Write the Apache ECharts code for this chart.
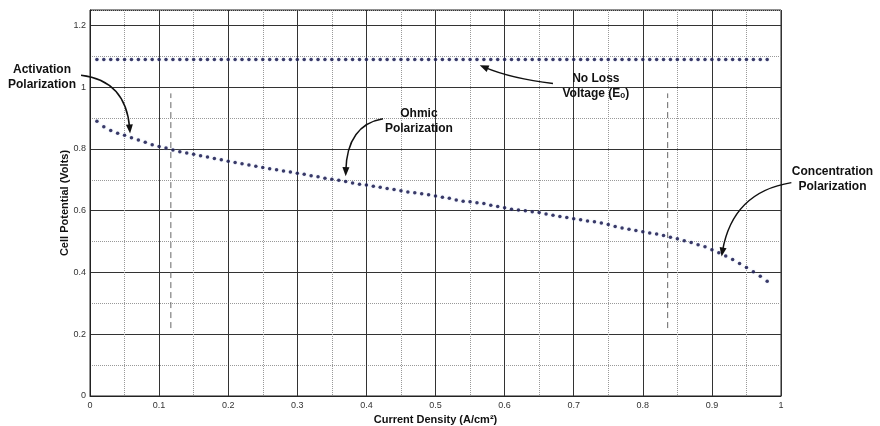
<!DOCTYPE html>
<html>
<head>
<meta charset="utf-8">
<script src="https://cdn.jsdelivr.net/npm/echarts@6/dist/echarts.min.js"></script>
<style>
html, body { margin: 0; padding: 0; background: #fff; }
#chart { width: 880px; height: 426px; }
</style>
</head>
<body>
<div id="chart"></div>
<script>
// current density (A/cm2) of every plotted dot
var currentDensity = [
    0.01, 0.02, 0.03, 0.04, 0.05, 0.06, 0.07, 0.08, 0.09, 0.10,
    0.11, 0.12, 0.13, 0.14, 0.15, 0.16, 0.17, 0.18, 0.19, 0.20,
    0.21, 0.22, 0.23, 0.24, 0.25, 0.26, 0.27, 0.28, 0.29, 0.30,
    0.31, 0.32, 0.33, 0.34, 0.35, 0.36, 0.37, 0.38, 0.39, 0.40,
    0.41, 0.42, 0.43, 0.44, 0.45, 0.46, 0.47, 0.48, 0.49, 0.50,
    0.51, 0.52, 0.53, 0.54, 0.55, 0.56, 0.57, 0.58, 0.59, 0.60,
    0.61, 0.62, 0.63, 0.64, 0.65, 0.66, 0.67, 0.68, 0.69, 0.70,
    0.71, 0.72, 0.73, 0.74, 0.75, 0.76, 0.77, 0.78, 0.79, 0.80,
    0.81, 0.82, 0.83, 0.84, 0.85, 0.86, 0.87, 0.88, 0.89, 0.90,
    0.91, 0.92, 0.93, 0.94, 0.95, 0.96, 0.97, 0.98
];
// cell potential (V), polarization curve
var cellPotential = [
    0.890, 0.872, 0.860, 0.851, 0.844, 0.836, 0.829, 0.822, 0.814, 0.808,
    0.803, 0.797, 0.791, 0.787, 0.783, 0.778, 0.774, 0.769, 0.765, 0.760,
    0.756, 0.752, 0.748, 0.744, 0.740, 0.736, 0.733, 0.729, 0.725, 0.721,
    0.718, 0.713, 0.710, 0.705, 0.702, 0.699, 0.695, 0.690, 0.686, 0.683,
    0.679, 0.676, 0.672, 0.669, 0.665, 0.661, 0.658, 0.655, 0.652, 0.648,
    0.644, 0.640, 0.635, 0.631, 0.629, 0.626, 0.623, 0.618, 0.614, 0.610,
    0.605, 0.602, 0.600, 0.597, 0.594, 0.589, 0.585, 0.581, 0.578, 0.574,
    0.571, 0.567, 0.564, 0.560, 0.555, 0.549, 0.544, 0.540, 0.536, 0.532,
    0.528, 0.525, 0.520, 0.514, 0.509, 0.503, 0.497, 0.490, 0.483, 0.474,
    0.464, 0.453, 0.442, 0.429, 0.416, 0.402, 0.388, 0.372
];
// no loss voltage (E0)
var noLossVoltage = [
    1.09, 1.09, 1.09, 1.09, 1.09, 1.09, 1.09, 1.09, 1.09, 1.09,
    1.09, 1.09, 1.09, 1.09, 1.09, 1.09, 1.09, 1.09, 1.09, 1.09,
    1.09, 1.09, 1.09, 1.09, 1.09, 1.09, 1.09, 1.09, 1.09, 1.09,
    1.09, 1.09, 1.09, 1.09, 1.09, 1.09, 1.09, 1.09, 1.09, 1.09,
    1.09, 1.09, 1.09, 1.09, 1.09, 1.09, 1.09, 1.09, 1.09, 1.09,
    1.09, 1.09, 1.09, 1.09, 1.09, 1.09, 1.09, 1.09, 1.09, 1.09,
    1.09, 1.09, 1.09, 1.09, 1.09, 1.09, 1.09, 1.09, 1.09, 1.09,
    1.09, 1.09, 1.09, 1.09, 1.09, 1.09, 1.09, 1.09, 1.09, 1.09,
    1.09, 1.09, 1.09, 1.09, 1.09, 1.09, 1.09, 1.09, 1.09, 1.09,
    1.09, 1.09, 1.09, 1.09, 1.09, 1.09, 1.09, 1.09
];
// dashed region boundaries
var boundaryX = [0.117, 0.836];
var boundaryY = [0.22, 0.98];

// annotations, all in data coordinates
var notes = [
    {text: 'Activation\nPolarization', at: [-0.0695, 1.034], from: [-0.013, 1.039], ctrl: [0.052, 1.022], to: [0.058, 0.850]},
    {text: 'Ohmic\nPolarization', at: [0.476, 0.889], from: [0.424, 0.898], ctrl: [0.372, 0.878], to: [0.370, 0.712]},
    {text: 'No Loss\nVoltage (E\u2092)', at: [0.732, 1.003], from: [0.670, 1.012], ctrl: [0.610, 1.028], to: [0.564, 1.071]},
    {text: 'Concentration\nPolarization', at: [1.0745, 0.703], from: [1.015, 0.691], ctrl: [0.930, 0.660], to: [0.914, 0.452]}
];

function pairs(xs, ys) {
    var out = [];
    for (var i = 0; i < xs.length; i++) {
        out.push([xs[i], ys[i]]);
    }
    return out;
}

var dom = document.getElementById('chart');
var myChart = echarts.init(dom, null, {renderer: 'canvas'});

var dotStyle = {
    color: '#0e0e45',
    shadowBlur: 2,
    shadowColor: 'rgba(190,200,235,0.8)'
};
var labelFont = {fontFamily: 'Liberation Sans', fontSize: 9, color: '#333'};

var option = {
    animation: false,
    backgroundColor: '#fff',
    grid: {
        left: 90, right: 99, top: 10, bottom: 30,
        show: true, borderColor: '#222', borderWidth: 1,
        outerBoundsMode: 'none'
    },
    xAxis: [{
        type: 'value', min: 0, max: 1, interval: 0.1,
        name: 'Current Density (A/cm\u00b2)',
        nameLocation: 'middle', nameGap: 17,
        nameTextStyle: {fontFamily: 'Liberation Sans', fontSize: 11, fontWeight: 'bold', color: '#111'},
        axisLine: {show: true, onZero: false, lineStyle: {color: '#222'}},
        axisTick: {show: false},
        axisLabel: Object.assign({margin: 5}, labelFont),
        splitLine: {show: true, lineStyle: {color: '#333', width: 1}},
        minorTick: {show: false, splitNumber: 2},
        minorSplitLine: {show: true, lineStyle: {color: '#999', type: 'dotted', width: 1}}
    }],
    yAxis: [{
        type: 'value', min: 0, max: 1.25, interval: 0.2,
        name: 'Cell Potential (Volts)',
        nameLocation: 'middle', nameGap: 20, nameRotate: 90,
        nameMoveOverlap: false,
        nameTextStyle: {fontFamily: 'Liberation Sans', fontSize: 11, fontWeight: 'bold', color: '#111'},
        axisLine: {show: true, onZero: false, lineStyle: {color: '#222'}},
        axisTick: {show: false},
        axisLabel: Object.assign({margin: 4, showMaxLabel: false}, labelFont),
        splitLine: {show: true, lineStyle: {color: '#333', width: 1}}
    }, {
        // only used for the dotted 0.1 steps
        type: 'value', min: 0, max: 1.25, interval: 0.1,
        axisLine: {show: false}, axisTick: {show: false}, axisLabel: {show: false},
        splitLine: {show: true, lineStyle: {color: ['transparent', '#999'], type: 'dotted', width: 1}},
        z: 0
    }],
    series: [
        {
            name: 'No Loss Voltage', type: 'scatter',
            data: pairs(currentDensity, noLossVoltage),
            symbol: 'circle', symbolSize: 3.5,
            itemStyle: dotStyle, z: 5
        },
        {
            name: 'Cell Potential', type: 'scatter',
            data: pairs(currentDensity, cellPotential),
            symbol: 'circle', symbolSize: 3.5,
            itemStyle: dotStyle, z: 5
        },
        {
            type: 'line', symbol: 'none',
            data: [[boundaryX[0], boundaryY[0]], [boundaryX[0], boundaryY[1]]],
            lineStyle: {color: '#666', width: 1, type: [6, 4]}, z: 4
        },
        {
            type: 'line', symbol: 'none',
            data: [[boundaryX[1], boundaryY[0]], [boundaryX[1], boundaryY[1]]],
            lineStyle: {color: '#666', width: 1, type: [6, 4]}, z: 4
        }
    ]
};
myChart.setOption(option);

// annotation texts and curved arrows
function px(p) {
    return myChart.convertToPixel({gridIndex: 0}, p);
}
var graphics = [];
notes.forEach(function (n) {
    var at = px(n.at), a = px(n.from), c = px(n.ctrl), b = px(n.to);
    graphics.push({
        type: 'text', x: at[0], y: at[1], z: 10,
        style: {
            text: n.text, fill: '#111',
            font: 'bold 12px "Liberation Sans", "DejaVu Sans"',
            align: 'center', verticalAlign: 'middle', lineHeight: 15
        }
    });
    var dx = b[0] - c[0], dy = b[1] - c[1];
    var len = Math.sqrt(dx * dx + dy * dy);
    var ux = dx / len, uy = dy / len;
    var hl = 9, hw = 3.5;
    graphics.push({
        type: 'bezierCurve', z: 10,
        shape: {x1: a[0], y1: a[1], cpx1: c[0], cpy1: c[1], x2: b[0] - ux * hl * 0.6, y2: b[1] - uy * hl * 0.6},
        style: {stroke: '#111', lineWidth: 1.5, fill: null}
    });
    graphics.push({
        type: 'polygon', z: 10,
        shape: {points: [
            [b[0], b[1]],
            [b[0] - ux * hl - uy * hw, b[1] - uy * hl + ux * hw],
            [b[0] - ux * hl + uy * hw, b[1] - uy * hl - ux * hw]
        ]},
        style: {fill: '#111'}
    });
});
myChart.setOption({graphic: graphics});
window.addEventListener('resize', myChart.resize);
</script>
</body>
</html>
